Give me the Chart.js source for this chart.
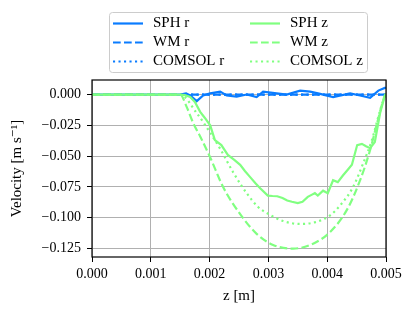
<!DOCTYPE html>
<html>
<head>
<meta charset="utf-8">
<script src="https://cdn.jsdelivr.net/npm/chart.js@4/dist/chart.umd.min.js"></script>
<style>
  html, body { margin: 0; padding: 0; background: #fff; }
  canvas { display: block; }
</style>
</head>
<body>
<canvas id="velocity-chart" width="415" height="316"></canvas>
<script>
// values (z in m, velocity in m/s)
const zSphR = [0, 0.0015, 0.0016, 0.00167, 0.00178, 0.00189, 0.00201, 0.00218, 0.00229, 0.00246, 0.00263, 0.0028, 0.00291, 0.00314, 0.00331, 0.00354, 0.00371, 0.00388, 0.0041, 0.00439, 0.00456, 0.00473, 0.00487, 0.00498, 0.005];
const vSphR = [0, 0, 0.001, -0.0008, -0.0054, -0.0008, 0.001, 0.0024, -0.0008, -0.0016, 0, -0.002, 0.0024, 0.001, 0, 0.0032, 0.0024, 0.0005, -0.002, 0.001, -0.0008, -0.0027, 0.0032, 0.0054, 0.0055];

const zWmR = [0, 0.0015, 0.0025, 0.0035, 0.0045, 0.005];
const vWmR = [0, 0, 0, 0, 0, 0];

const zComsolR = [0, 0.0015, 0.0025, 0.0035, 0.0045, 0.005];
const vComsolR = [0, 0, 0, 0, 0, 0];

const zSphZ = [0, 0.0015, 0.00158, 0.00167, 0.00175, 0.00184, 0.00192, 0.00201, 0.00209, 0.0022, 0.00231, 0.00242, 0.00252, 0.0026, 0.00269, 0.00278, 0.00286, 0.00299, 0.00307, 0.00315, 0.00324, 0.00332, 0.0034, 0.0035, 0.00358, 0.00367, 0.00375, 0.00379, 0.00384, 0.00393, 0.00401, 0.0041, 0.00418, 0.00427, 0.00435, 0.00442, 0.00451, 0.00459, 0.00466, 0.00473, 0.00481, 0.0049, 0.00498, 0.005];
const vSphZ = [0, 0, -0.0005, -0.002, -0.006, -0.014, -0.019, -0.025, -0.037, -0.041, -0.049, -0.053, -0.057, -0.062, -0.067, -0.072, -0.076, -0.082, -0.0823, -0.0825, -0.084, -0.086, -0.087, -0.088, -0.087, -0.083, -0.081, -0.080, -0.082, -0.078, -0.080, -0.0695, -0.071, -0.0655, -0.061, -0.057, -0.041, -0.040, -0.042, -0.0435, -0.0385, -0.015, -0.001, 0.001];

const zWmZ = [0, 0.0015, 0.00161, 0.00172, 0.00184, 0.00201, 0.00223, 0.00252, 0.0028, 0.00308, 0.00342, 0.00376, 0.00405, 0.00433, 0.00456, 0.00473, 0.00486, 0.00498, 0.005];
const vWmZ = [0, 0, -0.010, -0.023, -0.034, -0.051, -0.075, -0.097, -0.113, -0.122, -0.125, -0.121, -0.1115, -0.094, -0.0695, -0.045, -0.021, -0.001, 0];

const zComsolZ = [0, 0.0015, 0.00178, 0.00201, 0.00218, 0.0024, 0.00263, 0.00282, 0.00299, 0.00325, 0.00354, 0.0038, 0.00405, 0.00422, 0.00444, 0.00461, 0.00476, 0.0049, 0.00498, 0.005];
const vComsolZ = [0, 0, -0.015, -0.031, -0.044, -0.063, -0.080, -0.091, -0.0966, -0.1026, -0.105, -0.1035, -0.098, -0.090, -0.075, -0.056, -0.037, -0.0127, -0.001, 0];

const xTicks = [0, 0.001, 0.002, 0.003, 0.004, 0.005];
const yTicks = [0, -0.025, -0.05, -0.075, -0.1, -0.125];

const BLUE = '#0a7cff';
const GREEN = '#80ff80';
const DASHED = [7.7, 3.3];
const DOTTED = [2.1, 3.4];
const FONT = "'Liberation Serif', 'DejaVu Serif', serif";

function pts(zs, vs) {
  return zs.map((z, i) => ({ x: z, y: vs[i] }));
}

function series(label, zs, vs, color, dash, smooth) {
  return {
    label: label,
    data: pts(zs, vs),
    borderColor: color,
    backgroundColor: color,
    borderWidth: 2.2,
    borderDash: dash,
    pointRadius: 0,
    fill: false,
    cubicInterpolationMode: smooth ? 'monotone' : 'default',
    tension: 0
  };
}

const sphR = series('SPH r', zSphR, vSphR, BLUE, [], false);
const wmR = series('WM r', zWmR, vWmR, BLUE, DASHED, true);
const comsolR = series('COMSOL r', zComsolR, vComsolR, BLUE, DOTTED, true);
const sphZ = series('SPH z', zSphZ, vSphZ, GREEN, [], false);
const wmZ = series('WM z', zWmZ, vWmZ, GREEN, DASHED, true);
const comsolZ = series('COMSOL z', zComsolZ, vComsolZ, GREEN, DOTTED, true);

// legend in two columns, like the original
const legendCols = [[sphR, wmR, comsolR], [sphZ, wmZ, comsolZ]];

const framePlugin = {
  id: 'frame',
  afterDatasetsDraw(chart) {
    const a = chart.chartArea;
    const ctx = chart.ctx;
    ctx.save();
    ctx.strokeStyle = '#000';
    ctx.lineWidth = 1.2;
    ctx.strokeRect(a.left, a.top, a.right - a.left, a.bottom - a.top);
    ctx.restore();
  }
};

const legendPlugin = {
  id: 'twoColLegend',
  afterDraw(chart) {
    const ctx = chart.ctx;
    ctx.save();
    const bx = 109.5, by = 12.5, bw = 258, bh = 60, r = 3;
    ctx.beginPath();
    ctx.moveTo(bx + r, by);
    ctx.arcTo(bx + bw, by, bx + bw, by + bh, r);
    ctx.arcTo(bx + bw, by + bh, bx, by + bh, r);
    ctx.arcTo(bx, by + bh, bx, by, r);
    ctx.arcTo(bx, by, bx + bw, by, r);
    ctx.closePath();
    ctx.fillStyle = 'rgba(255,255,255,0.8)';
    ctx.fill();
    ctx.strokeStyle = '#cccccc';
    ctx.lineWidth = 1;
    ctx.stroke();

    const colX = [113, 250];
    const rowY = [23.5, 42.5, 61.5];
    ctx.font = '15px ' + FONT;
    ctx.textBaseline = 'middle';
    ctx.textAlign = 'left';
    legendCols.forEach((col, c) => {
      col.forEach((ds, i) => {
        const y = rowY[i];
        ctx.beginPath();
        ctx.setLineDash(ds.borderDash);
        ctx.strokeStyle = ds.borderColor;
        ctx.lineWidth = 2.2;
        ctx.moveTo(colX[c], y);
        ctx.lineTo(colX[c] + 30, y);
        ctx.stroke();
        ctx.setLineDash([]);
        ctx.fillStyle = '#000';
        ctx.fillText(ds.label, colX[c] + 40, y);
      });
    });
    ctx.restore();
  }
};

function fmt(v) {
  const s = Math.abs(v).toFixed(3);
  return v < -1e-9 ? '\u2212' + s : s;
}

const ctx = document.getElementById('velocity-chart').getContext('2d');
new Chart(ctx, {
  type: 'line',
  // dataset 0 is drawn on top in Chart.js, so the z series go first
  data: { datasets: [comsolZ, wmZ, sphZ, comsolR, wmR, sphR] },
  options: {
    responsive: false,
    animation: false,
    devicePixelRatio: 1,
    layout: { padding: { top: 80, right: 29, left: 0, bottom: 0 } },
    plugins: {
      legend: { display: false },
      tooltip: { enabled: false }
    },
    scales: {
      x: {
        type: 'linear',
        min: 0,
        max: 0.005,
        afterBuildTicks: s => { s.ticks = xTicks.map(v => ({ value: v })); },
        afterFit: s => { s.height = 59; },
        grid: { color: '#b0b0b0', lineWidth: 1, tickColor: '#000', tickLength: 5, drawTicks: true },
        border: { display: false },
        ticks: {
          color: '#000',
          padding: 4,
          maxRotation: 0,
          font: { family: FONT, size: 14 },
          callback: v => fmt(v)
        },
        title: {
          display: true,
          text: 'z [m]',
          color: '#000',
          font: { family: FONT, size: 15 },
          padding: { top: 0, bottom: 11 }
        }
      },
      y: {
        type: 'linear',
        min: -0.1318,
        max: 0.0118,
        afterBuildTicks: s => { s.ticks = yTicks.map(v => ({ value: v })); },
        afterFit: s => { s.width = 92; },
        grid: { color: '#b0b0b0', lineWidth: 1, tickColor: '#000', tickLength: 5, drawTicks: true },
        border: { display: false },
        ticks: {
          color: '#000',
          padding: 6,
          font: { family: FONT, size: 14 },
          callback: v => fmt(v)
        },
        title: {
          display: true,
          text: 'Velocity [m s\u207B\u00B9]',
          color: '#000',
          font: { family: FONT, size: 15 },
          padding: { top: 8, bottom: 0 }
        }
      }
    }
  },
  plugins: [framePlugin, legendPlugin]
});
</script>
</body>
</html>
